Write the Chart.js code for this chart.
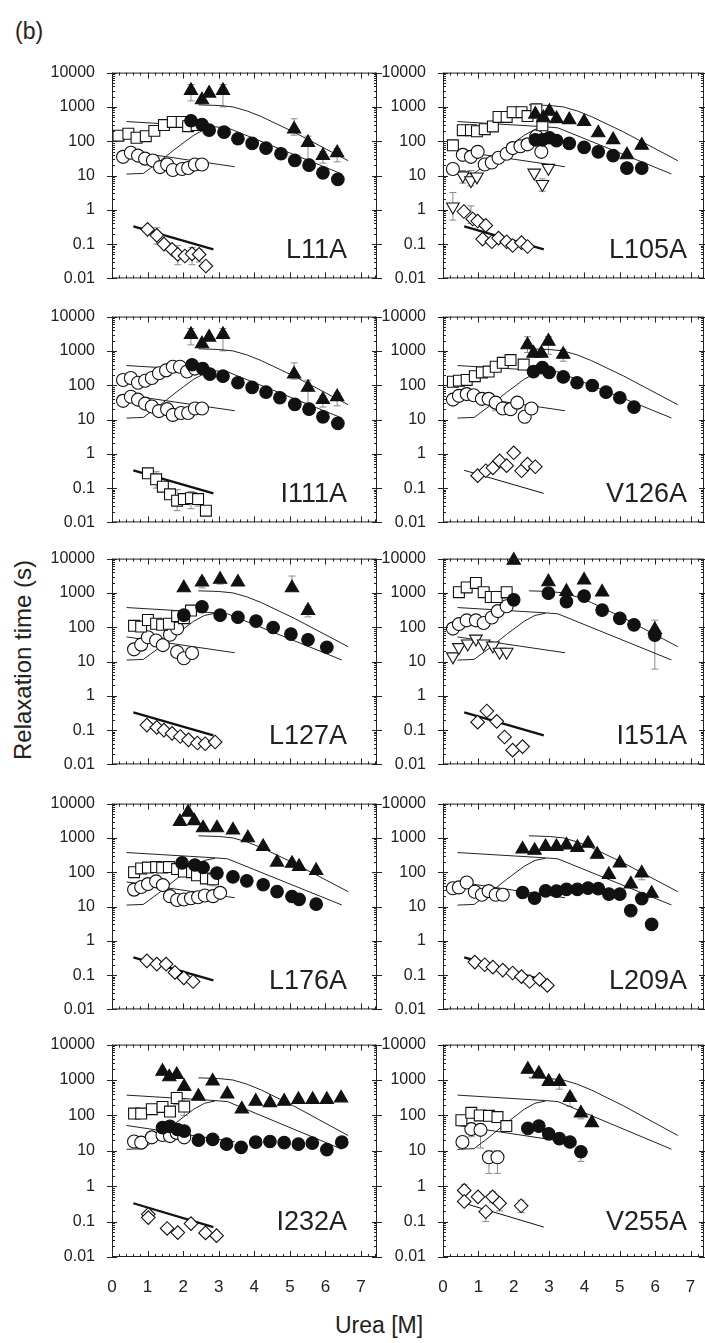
<!DOCTYPE html>
<html>
<head>
<meta charset="utf-8">
<script src="https://cdn.jsdelivr.net/npm/chart.js@4.4.0/dist/chart.umd.min.js"></script>
<style>
  body { margin: 0; background: #fff; width: 705px; height: 1343px; overflow: hidden; position: relative;
         font-family: "Liberation Sans", Arial, sans-serif; color: #222; }
  .panel { position: absolute; }
  .txt { position: absolute; white-space: nowrap; line-height: 1; }
  .plab { font-size: 27px; text-align: right; width: 200px; }
</style>
</head>
<body>
<div class="txt" style="left:15px;top:20px;font-size:23px;">(b)</div>
<div class="txt" style="left:23px;top:660px;font-size:24px;transform:translate(-50%,-50%) rotate(-90deg);">Relaxation time (s)</div>
<div class="txt" style="left:379px;top:1325px;font-size:23px;transform:translate(-50%,-50%);">Urea [M]</div>
<div id="panels"></div>
<script>
// axis ticks
const xTicks = [0, 1, 2, 3, 4, 5, 6, 7];
const yTicks = [0.01, 0.1, 1, 10, 100, 1000, 10000];
const yTickLabels = ['0.01', '0.1', '1', '10', '100', '1000', '10000'];

// model curves (same in every panel)
const upperX = [2.43, 3.0, 3.4, 3.8, 4.2, 5.1, 6.64];
const upperY = [1150, 1100, 1000, 760, 520, 187, 27];
const middleX = [0.41, 2.9, 3.25, 6.46];
const middleY = [374, 262, 245, 11.1];
const risingX = [0.41, 0.88, 1.3, 1.8, 2.3, 2.6, 2.9];
const risingY = [11, 11.5, 24, 62, 150, 220, 255];
const lowerX = [0.41, 3.45];
const lowerY = [52, 18];
const fastX = [0.6, 2.85];
const fastY = [0.33, 0.07];

// L11A
const L11A_fc = [[2.22,395],[2.53,305],[2.73,210],[3.15,183],[3.54,118],[3.94,86],[4.33,63],[4.75,43],[5.14,27.5],[5.54,20],[5.93,12],[6.35,7.7]];
const L11A_ft = [[2.22,3000],[2.53,1600],[2.73,2500],[3.12,3000],[5.12,224],[5.51,91],[5.93,38],[6.33,46]];
const L11A_os = [[0.18,145],[0.46,165],[0.69,126],[0.95,140],[1.19,200],[1.46,295],[1.71,365],[1.96,365],[2.14,275],[2.38,295]];
const L11A_oc = [[0.31,35],[0.53,46],[0.73,38],[0.93,31],[1.15,27.5],[1.35,17.6],[1.55,21],[1.71,14.5],[1.97,15.5],[2.14,16.5],[2.33,21],[2.53,21]];
const L11A_od = [[1.0,0.27],[1.26,0.18],[1.46,0.1],[1.69,0.07],[1.85,0.05],[2.05,0.045],[2.25,0.052],[2.45,0.05],[2.64,0.023]];
const L11A_err = [[2.22,1500,4500],[3.12,1000,4500],[5.12,150,450],[5.51,30,140],[5.93,23,50],[6.33,25,60],[1.26,0.1,0.3],[1.85,0.025,0.09],[2.25,0.025,0.08],[2.45,0.03,0.07]];

// L105A
const L105A_ft = [[2.61,610],[2.84,480],[3.01,740],[3.21,450],[3.57,420],[3.99,370],[4.39,174],[4.81,110],[5.2,40],[5.62,76]];
const L105A_fc = [[2.61,110],[2.81,110],[3.01,126],[3.21,104],[3.57,86],[3.99,66],[4.39,49],[4.81,38],[5.2,16.5],[5.62,16.5]];
const L105A_os = [[0.28,76],[0.56,210],[0.79,210],[0.96,195],[1.18,224],[1.41,270],[1.57,510],[1.8,510],[1.97,700],[2.22,700],[2.39,540],[2.64,850],[2.81,290]];
const L105A_oc = [[0.28,15.5],[0.56,40],[0.79,35],[0.98,49],[1.18,21],[1.38,24],[1.57,33],[1.8,43],[1.97,63],[2.19,71],[2.39,81],[2.64,140],[2.78,49]];
const L105A_ot = [[0.28,1.23],[0.56,10],[0.79,7.2],[0.96,9.3],[2.58,12],[2.81,5.6],[2.98,16.5]];
const L105A_od = [[0.59,0.89],[0.84,0.54],[0.98,0.47],[1.21,0.35],[1.12,0.14],[1.38,0.117],[1.57,0.15],[1.8,0.117],[1.97,0.091],[2.22,0.11],[2.39,0.085]];
const L105A_err = [[0.28,0.5,3.2],[0.56,6,14],[0.79,5,14],[2.81,3.5,8],[0.79,0.4,1.3]];

// I111A
const I111A_ft = [[2.22,3000],[2.53,1600],[2.73,2500],[3.12,3000],[5.12,210],[5.51,86],[5.93,38],[6.33,46]];
const I111A_fc = [[2.25,395],[2.55,305],[2.75,210],[3.12,183],[3.54,118],[3.94,86],[4.33,63],[4.72,43],[5.14,27.5],[5.54,20],[5.93,12],[6.35,7.7]];
const I111A_ocTop = [[0.31,142],[0.53,162],[0.73,118],[0.93,135],[1.12,162],[1.32,224],[1.52,270],[1.71,345],[1.91,345],[2.11,250],[2.33,305]];
const I111A_ocLow = [[0.31,35],[0.53,46],[0.73,38],[0.93,29],[1.12,24],[1.32,17.6],[1.55,20],[1.71,13.6],[1.94,15.5],[2.14,15.5],[2.33,21],[2.53,21]];
const I111A_os = [[1.01,0.27],[1.24,0.18],[1.43,0.11],[1.63,0.066],[1.83,0.043],[2.02,0.048],[2.22,0.051],[2.42,0.048],[2.64,0.022]];
const I111A_err = [[2.22,1500,4500],[3.12,1000,4500],[5.12,150,450],[5.51,30,140],[5.93,23,50],[6.33,25,60],[1.24,0.1,0.3],[1.83,0.022,0.09],[2.22,0.025,0.08],[2.42,0.03,0.07]];

// V126A
const V126A_ft = [[2.39,1500],[2.56,850],[2.78,850],[2.98,1900],[3.4,790]];
const V126A_fc = [[2.56,250],[2.81,325],[3.0,235],[3.4,174],[3.79,118],[4.22,98],[4.61,63],[5.0,43],[5.4,23]];
const V126A_os = [[0.28,126],[0.45,135],[0.67,142],[0.9,183],[1.1,235],[1.29,250],[1.49,345],[1.69,450],[1.91,540],[2.28,400]];
const V126A_oc = [[0.28,38],[0.45,49],[0.67,55],[0.87,51],[1.1,40],[1.29,40],[1.49,31],[1.69,21],[1.91,20],[2.1,31],[2.31,12],[2.5,21]];
const V126A_od = [[0.98,0.23],[1.21,0.32],[1.41,0.39],[1.6,0.62],[1.8,0.45],[2.0,1.07],[2.22,0.32],[2.39,0.5],[2.61,0.42]];
const V126A_err = [[2.39,900,2600],[2.98,800,2600],[3.4,500,1100],[2.31,8,14],[1.49,18,30],[1.91,16,24]];

// L127A
const L127A_ft = [[2.02,1400],[2.53,2050],[3.04,2480],[3.54,2050],[5.06,1400],[5.51,305]];
const L127A_fc = [[2.02,224],[2.53,395],[3.04,224],[3.54,195],[4.05,151],[4.53,98],[5.03,63],[5.51,43],[6.04,26]];
const L127A_os = [[0.62,110],[0.82,104],[1.01,162],[1.24,126],[1.41,118],[1.6,126],[1.83,210],[2.02,183],[2.22,305]];
const L127A_oc = [[0.62,22.6],[0.82,31],[1.01,51],[1.24,41],[1.43,30],[1.63,60],[1.83,92],[1.83,19],[2.02,12.5],[2.25,17.7]];
const L127A_od = [[0.98,0.14],[1.26,0.12],[1.46,0.1],[1.69,0.08],[1.92,0.065],[2.15,0.052],[2.4,0.042],[2.62,0.04],[2.9,0.045]];
const L127A_err = [[2.53,1400,2800],[3.04,1800,2700],[5.06,1300,3100],[5.51,200,400],[2.02,160,300]];

// I151A
const I151A_ft = [[2.0,8900],[2.98,2100],[3.49,1100],[3.99,2350],[4.5,1050],[5.99,85]];
const I151A_fc = [[2.0,630],[2.98,980],[3.49,560],[3.99,810],[4.5,315],[5.0,180],[5.4,117],[5.99,59]];
const I151A_os = [[0.45,1050],[0.67,1440],[0.93,1950],[1.15,1050],[1.35,760],[1.52,760],[1.8,1050]];
const I151A_oc = [[0.28,91],[0.45,123],[0.67,158],[0.93,158],[1.15,132],[1.38,191],[1.55,295],[1.8,407]];
const I151A_ot = [[0.28,14],[0.45,26],[0.7,33],[0.93,46],[1.15,33],[1.41,29],[1.6,19],[1.8,19]];
const I151A_od = [[0.98,0.17],[1.24,0.36],[1.52,0.18],[1.74,0.063],[1.97,0.026],[2.25,0.033]];
const I151A_err = [[5.99,6,160],[1.8,700,1400]];

// L176A
const L176A_ft = [[1.91,2970],[2.14,5560],[2.31,3160],[2.56,1950],[2.95,1950],[3.4,1690],[3.82,1000],[4.25,556],[4.64,195],[5.06,180],[5.26,146],[5.74,111]];
const L176A_fc = [[1.97,187],[2.33,162],[2.56,137],[2.95,94],[3.4,73],[3.79,56],[4.25,43],[4.64,27],[5.06,19.6],[5.26,16.2],[5.74,11.7]];
const L176A_os = [[0.62,100],[0.82,129],[1.01,136],[1.24,141],[1.41,136],[1.6,141],[1.83,123],[2.02,104],[2.25,100],[2.39,81],[2.64,66],[2.84,62]];
const L176A_oc = [[0.62,31],[0.82,37],[1.01,45],[1.24,54],[1.43,42],[1.63,20],[1.83,15.5],[2.02,16],[2.22,17.4],[2.42,18.6],[2.61,21],[2.84,20],[3.04,25]];
const L176A_od = [[0.98,0.26],[1.26,0.21],[1.52,0.21],[1.77,0.12],[2.02,0.083],[2.28,0.065]];
const L176A_err = [[2.84,40,110],[2.64,50,90]];

// L209A
const L209A_ft = [[2.25,470],[2.59,430],[2.9,555],[3.21,555],[3.49,617],[3.8,525],[4.1,690],[4.36,330],[4.69,85],[5.0,184],[5.31,45],[5.62,94],[5.9,24]];
const L209A_fc = [[2.25,25.6],[2.59,17.6],[2.9,28.5],[3.21,28],[3.49,31.6],[3.8,31.6],[4.1,34.4],[4.39,33],[4.69,23],[5.0,23],[5.31,7.6],[5.62,17],[5.9,3.0]];
const L209A_oc = [[0.28,34],[0.45,36],[0.67,50],[0.9,27],[1.1,22],[1.29,28],[1.49,22],[1.69,22]];
const L209A_od = [[0.9,0.24],[1.18,0.2],[1.41,0.17],[1.69,0.14],[1.97,0.115],[2.22,0.09],[2.45,0.065],[2.73,0.075],[2.95,0.05]];
const L209A_err = [[5.62,60,120]];

// I232A
const I232A_ft = [[1.42,1750],[1.61,1220],[1.82,1410],[2.03,650],[2.43,345],[2.83,930],[3.24,400],[3.65,150],[4.04,250],[4.44,228],[4.84,250],[5.24,280],[5.64,280],[6.04,280],[6.44,310]];
const I232A_fc = [[1.42,45],[1.63,49],[1.84,40],[2.03,36],[2.43,20],[2.83,21],[3.22,15.4],[3.63,12.5],[4.04,17.5],[4.44,18.3],[4.84,17],[5.24,15.4],[5.63,16.5],[6.04,10.8],[6.46,17.5]];
const I232A_os = [[0.62,113],[0.82,113],[1.12,150],[1.42,173],[1.63,128],[1.82,310],[2.03,178]];
const I232A_oc = [[0.62,18.3],[0.82,17],[1.12,24],[1.42,28],[1.63,26],[1.82,32],[2.03,24]];
const I232A_od = [[1.02,0.16],[1.02,0.13],[1.55,0.064],[1.85,0.049],[2.22,0.088],[2.63,0.048],[2.94,0.04]];
const I232A_err = [[1.82,200,450],[2.03,100,300]];

// V255A
const V255A_ft = [[2.4,1990],[2.71,1520],[2.99,900],[3.29,900],[3.59,316],[3.9,116],[4.21,62]];
const V255A_fc = [[2.4,43],[2.71,50],[2.99,30],[3.29,22],[3.59,17.7],[3.9,9.4]];
const V255A_os = [[0.52,73],[0.8,118],[1.04,100],[1.3,97],[1.54,90],[1.79,50]];
const V255A_oc = [[0.55,17.7],[0.8,41],[1.06,39],[1.3,6.6],[1.54,6.6]];
const V255A_od = [[0.6,0.76],[0.6,0.37],[0.99,0.5],[1.21,0.19],[1.4,0.5],[1.6,0.33],[2.21,0.28]];
const V255A_err = [[2.71,1200,1900],[3.29,550,1100],[3.59,180,420],[3.9,80,140],[3.9,5,12],[0.8,25,60],[1.06,12,55],[1.3,2.3,10],[1.54,2.3,10],[0.6,0.3,1.1],[1.21,0.1,0.2],[1.4,0.35,0.7],[1.6,0.2,0.45],[2.21,0.18,0.4]];

const panelNames = ['L11A', 'L105A', 'I111A', 'V126A', 'L127A', 'I151A', 'L176A', 'L209A', 'I232A', 'V255A'];
const panelSeries = [
    { ft: L11A_ft, fc: L11A_fc, os: L11A_os, oc: L11A_oc, od: L11A_od },
    { ft: L105A_ft, fc: L105A_fc, os: L105A_os, oc: L105A_oc, ot: L105A_ot, od: L105A_od },
    { ft: I111A_ft, fc: I111A_fc, ocTop: I111A_ocTop, ocLow: I111A_ocLow, os: I111A_os },
    { ft: V126A_ft, fc: V126A_fc, os: V126A_os, oc: V126A_oc, od: V126A_od },
    { ft: L127A_ft, fc: L127A_fc, os: L127A_os, oc: L127A_oc, od: L127A_od },
    { ft: I151A_ft, fc: I151A_fc, os: I151A_os, oc: I151A_oc, ot: I151A_ot, od: I151A_od },
    { ft: L176A_ft, fc: L176A_fc, os: L176A_os, oc: L176A_oc, od: L176A_od },
    { ft: L209A_ft, fc: L209A_fc, oc: L209A_oc, od: L209A_od },
    { ft: I232A_ft, fc: I232A_fc, os: I232A_os, oc: I232A_oc, od: I232A_od },
    { ft: V255A_ft, fc: V255A_fc, os: V255A_os, oc: V255A_oc, od: V255A_od }
];
const panelErrors = [L11A_err, L105A_err, I111A_err, V126A_err, L127A_err, I151A_err, L176A_err, L209A_err, I232A_err, V255A_err];
const thinFastLine = [false, false, false, true, false, false, false, false, false, true];

// layout
const rowTops = [66, 310, 552, 797, 1038];
const colLefts = [112, 443];
const colWidths = [265, 261];
const colXMax = [7.45, 7.38];
const plotH = 219;
const axisW = 62, padT = 12, padR = 12;
const labelRightGap = [30, 17];

const markerStyles = {
    fc: { style: 'circle', r: 6.3, fill: '#111' },
    oc: { style: 'circle', r: 6.5, fill: '#fff' },
    os: { style: 'rect', r: 7.7, fill: '#fff' },
    ft: { style: 'triangle', r: 7.7, fill: '#111' },
    od: { style: 'rectRot', r: 6.8, fill: '#fff' },
    ot: { style: 'triangle', r: 7.3, fill: '#fff', rot: 180 }
};

function toPoints(xs, ys) {
    return xs.map((x, k) => ({ x: x, y: ys[k] }));
}

function buildDatasets(i) {
    const ds = [];
    [[upperX, upperY], [middleX, middleY], [risingX, risingY], [lowerX, lowerY]].forEach(c => {
        ds.push({ data: toPoints(c[0], c[1]), showLine: true, borderColor: '#222', borderWidth: 1,
                  pointRadius: 0, order: 5 });
    });
    ds.push({ data: toPoints(fastX, fastY), showLine: true, borderColor: '#111',
              borderWidth: thinFastLine[i] ? 1 : 2.3, pointRadius: 0, order: 5 });
    Object.keys(panelSeries[i]).forEach(key => {
        const st = markerStyles[key.slice(0, 2)];
        ds.push({
            data: panelSeries[i][key].map(p => ({ x: p[0], y: p[1] })),
            showLine: false,
            pointStyle: st.style,
            pointRadius: st.r,
            pointRotation: st.rot || 0,
            pointBackgroundColor: st.fill,
            pointBorderColor: '#111',
            pointBorderWidth: 1.1,
            clip: false,
            order: 0
        });
    });
    return ds;
}

// error bars behind the markers, frame and inward ticks on top
function panelPlugin(i) {
    return {
        id: 'panelDeco' + i,
        beforeDatasetsDraw(chart) {
            const ctx = chart.ctx, xs = chart.scales.x, ys = chart.scales.y;
            ctx.save();
            ctx.strokeStyle = '#8a8a8a';
            ctx.lineWidth = 1;
            panelErrors[i].forEach(e => {
                const px = xs.getPixelForValue(e[0]);
                const y1 = ys.getPixelForValue(e[1]), y2 = ys.getPixelForValue(e[2]);
                ctx.beginPath();
                ctx.moveTo(px, y1); ctx.lineTo(px, y2);
                ctx.moveTo(px - 3.5, y1); ctx.lineTo(px + 3.5, y1);
                ctx.moveTo(px - 3.5, y2); ctx.lineTo(px + 3.5, y2);
                ctx.stroke();
            });
            ctx.restore();
        },
        afterDatasetsDraw(chart) {
            const ctx = chart.ctx, a = chart.chartArea, xs = chart.scales.x, ys = chart.scales.y;
            ctx.save();
            ctx.strokeStyle = '#222';
            ctx.lineWidth = 1;
            ctx.strokeRect(a.left + 0.5, a.top + 0.5, a.right - a.left - 1, a.bottom - a.top - 1);
            ctx.beginPath();
            // y ticks, left and right
            yTicks.forEach((v, k) => {
                const py = Math.round(ys.getPixelForValue(v)) + 0.5;
                ctx.moveTo(a.left - 5, py); ctx.lineTo(a.left + 5, py);
                ctx.moveTo(a.right - 5, py); ctx.lineTo(a.right + 5, py);
                if (k < yTicks.length - 1) {
                    for (let m = 2; m <= 9; m++) {
                        const pm = Math.round(ys.getPixelForValue(v * m)) + 0.5;
                        ctx.moveTo(a.left, pm); ctx.lineTo(a.left + 3, pm);
                        ctx.moveTo(a.right, pm); ctx.lineTo(a.right - 3, pm);
                    }
                }
            });
            // x ticks, bottom and top
            for (let t = 0; t <= xs.max + 1e-6; t += 0.2) {
                const px = Math.round(xs.getPixelForValue(t)) + 0.5;
                const major = Math.abs(t - Math.round(t)) < 1e-6;
                const len = major ? 6 : 3;
                ctx.moveTo(px, a.bottom); ctx.lineTo(px, a.bottom - len);
                ctx.moveTo(px, a.top); ctx.lineTo(px, a.top + len);
            }
            ctx.stroke();
            ctx.restore();
        }
    };
}

const host = document.getElementById('panels');
panelNames.forEach((name, i) => {
    const row = Math.floor(i / 2), col = i % 2;
    const isBottom = row === rowTops.length - 1;
    const bottomH = isBottom ? 36 : 12;
    const div = document.createElement('div');
    div.className = 'panel';
    div.style.left = (colLefts[col] - axisW) + 'px';
    div.style.top = (rowTops[row] - padT) + 'px';
    div.style.width = (axisW + colWidths[col] + padR) + 'px';
    div.style.height = (padT + plotH + bottomH) + 'px';
    const canvas = document.createElement('canvas');
    div.appendChild(canvas);
    host.appendChild(div);

    const lab = document.createElement('div');
    lab.className = 'txt plab';
    lab.textContent = name;
    lab.style.left = (colLefts[col] + colWidths[col] - labelRightGap[col] - 200) + 'px';
    lab.style.top = (rowTops[row] + 170) + 'px';
    document.body.appendChild(lab);

    new Chart(canvas.getContext('2d'), {
        type: 'scatter',
        data: { datasets: buildDatasets(i) },
        options: {
            responsive: true,
            maintainAspectRatio: false,
            animation: false,
            events: [],
            layout: { padding: { top: padT, right: padR, left: 0, bottom: 0 } },
            plugins: { legend: { display: false }, tooltip: { enabled: false } },
            scales: {
                x: {
                    type: 'linear',
                    min: 0,
                    max: colXMax[col],
                    grid: { display: false },
                    border: { display: false },
                    afterBuildTicks: s => { s.ticks = xTicks.map(v => ({ value: v })); },
                    afterFit: s => { s.height = bottomH; },
                    ticks: {
                        display: isBottom,
                        padding: 12,
                        color: '#222',
                        font: { family: '"Liberation Sans", Arial, sans-serif', size: 17 },
                        callback: v => String(v)
                    }
                },
                y: {
                    type: 'logarithmic',
                    min: 0.01,
                    max: 10000,
                    grid: { display: false },
                    border: { display: false },
                    afterBuildTicks: s => { s.ticks = yTicks.map(v => ({ value: v })); },
                    afterFit: s => { s.width = axisW; },
                    ticks: {
                        padding: 9,
                        color: '#222',
                        font: { family: '"Liberation Sans", Arial, sans-serif', size: 16 },
                        callback: v => yTickLabels[yTicks.indexOf(v)] ?? ''
                    }
                }
            }
        },
        plugins: [panelPlugin(i)]
    });
});
</script>
</body>
</html>
